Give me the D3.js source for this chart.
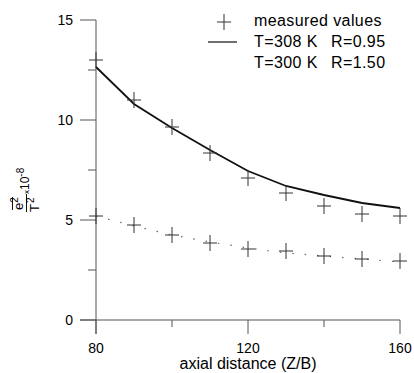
<!DOCTYPE html>
<html>
<head>
<meta charset="utf-8">
<script src="https://cdn.jsdelivr.net/npm/d3@7"></script>
<style>
  body { margin: 0; background: #fff; }
  text { font-family: "Liberation Sans", Arial, sans-serif; fill: #000; }
</style>
</head>
<body>
<div id="chart"></div>
<script>
// data
const distance = [80, 90, 100, 110, 120, 130, 140, 150, 160];
const measuredUpper = [13.0, 11.0, 9.65, 8.35, 7.1, 6.35, 5.7, 5.3, 5.2];
const measuredLower = [5.2, 4.75, 4.25, 3.85, 3.55, 3.45, 3.2, 3.05, 2.95];
const model308 = [12.65, 10.8, 9.6, 8.5, 7.45, 6.7, 6.25, 5.85, 5.6];
const model300 = [5.2, 4.7, 4.25, 3.9, 3.6, 3.35, 3.2, 3.05, 2.9];
const yTicks = [0, 5, 10, 15];
const yMinor = [2.5, 7.5, 12.5];
const xTicks = [80, 120, 160];
const xMinor = [100, 140];
const legendLabels = [["measured values", ""], ["T=308 K", "R=0.95"], ["T=300 K", "R=1.50"]];

const width = 414, height = 373;

const x = d3.scaleLinear().domain([80, 160]).range([96, 400]);
const y = d3.scaleLinear().domain([0, 15]).range([320, 20]);

const svg = d3.select("#chart").append("svg")
  .attr("width", width)
  .attr("height", height);

const axisColor = "#555";

// y axis line + ticks
svg.append("line")
  .attr("x1", x(80)).attr("x2", x(80))
  .attr("y1", y(15)).attr("y2", y(0) + 14)
  .attr("stroke", axisColor).attr("stroke-width", 1);

svg.selectAll("line.ytick")
  .data(yTicks)
  .join("line")
  .attr("class", "ytick")
  .attr("x1", x(80) - 16).attr("x2", x(80))
  .attr("y1", d => y(d)).attr("y2", d => y(d))
  .attr("stroke", axisColor);

svg.selectAll("line.yminor")
  .data(yMinor)
  .join("line")
  .attr("class", "yminor")
  .attr("x1", x(80) - 8).attr("x2", x(80))
  .attr("y1", d => y(d)).attr("y2", d => y(d))
  .attr("stroke", axisColor);

svg.selectAll("text.ylab")
  .data(yTicks)
  .join("text")
  .attr("class", "ylab")
  .attr("x", 73)
  .attr("y", d => y(d) + 5)
  .attr("text-anchor", "end")
  .attr("font-size", 14)
  .text(d => d);

// x axis line + ticks
svg.append("line")
  .attr("x1", x(80) - 16).attr("x2", x(160))
  .attr("y1", y(0)).attr("y2", y(0))
  .attr("stroke", axisColor).attr("stroke-width", 1);

svg.selectAll("line.xtick")
  .data(xTicks)
  .join("line")
  .attr("class", "xtick")
  .attr("x1", d => x(d)).attr("x2", d => x(d))
  .attr("y1", y(0)).attr("y2", y(0) + 14)
  .attr("stroke", axisColor);

svg.selectAll("line.xminor")
  .data(xMinor)
  .join("line")
  .attr("class", "xminor")
  .attr("x1", d => x(d)).attr("x2", d => x(d))
  .attr("y1", y(0)).attr("y2", y(0) + 7)
  .attr("stroke", axisColor);

svg.selectAll("text.xlab")
  .data(xTicks)
  .join("text")
  .attr("class", "xlab")
  .attr("x", d => x(d))
  .attr("y", 353)
  .attr("text-anchor", "middle")
  .attr("font-size", 14)
  .text(d => d);

svg.append("text")
  .attr("x", 248).attr("y", 369)
  .attr("text-anchor", "middle")
  .attr("font-size", 16)
  .text("axial distance (Z/B)");

// y axis title: overline e^2 / T^2 x10^-8 (rotated)
const yt = svg.append("g");
yt.append("line")
  .attr("x1", 12.5).attr("x2", 12.5).attr("y1", 197).attr("y2", 210)
  .attr("stroke", "#111");
yt.append("text")
  .attr("transform", "translate(23,210) rotate(-90)")
  .attr("font-size", 13)
  .call(t => {
    t.append("tspan").text("e");
    t.append("tspan").attr("dy", -5).attr("font-size", 10).text("2");
  });
yt.append("line")
  .attr("x1", 26.5).attr("x2", 26.5).attr("y1", 194).attr("y2", 212)
  .attr("stroke", "#111");
yt.append("text")
  .attr("transform", "translate(39,212) rotate(-90)")
  .attr("font-size", 13)
  .call(t => {
    t.append("tspan").text("T");
    t.append("tspan").attr("dx", 1).attr("dy", -5).attr("font-size", 10).text("2");
  });
yt.append("text")
  .attr("transform", "translate(28.5,194) rotate(-90)")
  .attr("font-size", 12)
  .call(t => {
    t.append("tspan").attr("font-size", 8).text("x");
    t.append("tspan").text("10");
    t.append("tspan").attr("dy", -5).attr("font-size", 10).text("-8");
  });

// lines
const line = vals => d3.line()
  .x((d, i) => x(distance[i]))
  .y(d => y(d))(vals);

svg.append("path")
  .attr("d", line(model308))
  .attr("fill", "none")
  .attr("stroke", "#111")
  .attr("stroke-width", 1.8);

svg.append("path")
  .attr("d", line(model300))
  .attr("fill", "none")
  .attr("stroke", "#666")
  .attr("stroke-width", 1.2)
  .attr("stroke-dasharray", "1.5,11");

// plus markers
const plus = (sel, cx, cy) => {
  sel.append("line")
    .attr("x1", cx - 7).attr("x2", cx + 7).attr("y1", cy).attr("y2", cy)
    .attr("stroke", "#333");
  sel.append("line")
    .attr("x1", cx).attr("x2", cx).attr("y1", cy - 8).attr("y2", cy + 8)
    .attr("stroke", "#333");
};

const marks = svg.append("g");
measuredUpper.forEach((v, i) => plus(marks, x(distance[i]), y(v)));
measuredLower.forEach((v, i) => plus(marks, x(distance[i]), y(v)));

// legend
const lg = svg.append("g");
plus(lg, 224, 22);
lg.append("line")
  .attr("x1", 208).attr("x2", 237).attr("y1", 42).attr("y2", 42)
  .attr("stroke", "#222").attr("stroke-width", 1.3);

lg.selectAll("text.l1")
  .data(legendLabels)
  .join("text")
  .attr("class", "l1")
  .attr("x", 254)
  .attr("y", (d, i) => 26 + i * 21)
  .attr("font-size", 16)
  .attr("letter-spacing", 0.4)
  .text(d => d[0]);

lg.selectAll("text.l2")
  .data(legendLabels.filter(d => d[1]))
  .join("text")
  .attr("class", "l2")
  .attr("x", 331)
  .attr("y", (d, i) => 47 + i * 21)
  .attr("font-size", 16)
  .attr("letter-spacing", 0.4)
  .text(d => d[1]);
</script>
</body>
</html>
